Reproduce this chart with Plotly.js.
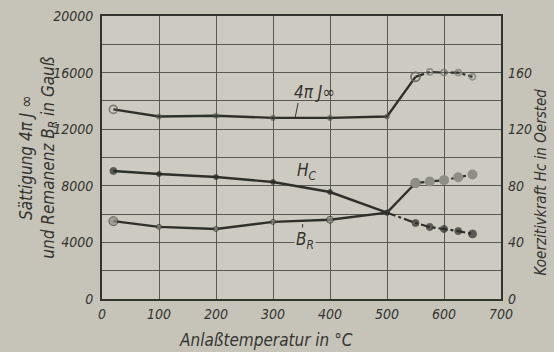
<!DOCTYPE html>
<html>
<head>
<meta charset="utf-8">
<script src="https://cdn.plot.ly/plotly-3.0.1.min.js"></script>
<style>
html,body{margin:0;padding:0;background:#c6c4b9;}
#chart{width:554px;height:352px;}
</style>
</head>
<body>
<div id="chart"></div>
<script>
// Anlaßtemperatur (°C)
var temps = [20, 100, 200, 300, 400, 500, 550, 575, 600, 625, 650];
// Sättigung 4πJ∞ (Gauß)
var sattigung = [13400, 12900, 12950, 12800, 12800, 12900, 15700, 16050, 16000, 16000, 15700];
// Remanenz B_R (Gauß)
var remanenz = [5500, 5100, 4950, 5450, 5600, 6100, 8200, 8300, 8400, 8600, 8800];
// Koerzitivkraft Hc (Oersted)
var koerzitiv = [90.5, 88.3, 86.2, 82.7, 75.6, 61, 53.7, 50.9, 49.5, 48, 46];

var leftTicks = [0, 4000, 8000, 12000, 16000, 20000];
var rightTicks = [0, 40, 80, 120, 160];
var xTicks = [0, 100, 200, 300, 400, 500, 600, 700];

var FONT = '"Liberation Sans Narrow", "DejaVu Sans Condensed", "Liberation Sans", sans-serif';
var INK = '#34342f';
var LINE = '#2f2f2b';

function seg(arr, a, b) { return arr.slice(a, b); }

var traces = [
  {x: seg(temps, 0, 7), y: seg(sattigung, 0, 7), mode: 'lines+markers', yaxis: 'y',
   line: {color: LINE, width: 2.4},
   marker: {symbol: 'circle-open', size: [8,4,4,4,4,4,9], color: '#55554f', line: {width: 1.6}},
   hoverinfo: 'skip', showlegend: false},
  {x: seg(temps, 6, 11), y: seg(sattigung, 6, 11), mode: 'lines+markers', yaxis: 'y',
   line: {color: LINE, width: 2.2, dash: 'dashdot'},
   marker: {symbol: 'circle-open', size: [9,6,6,6,6], color: '#74746d', line: {width: 1.6}},
   hoverinfo: 'skip', showlegend: false},
  {x: seg(temps, 0, 7), y: seg(remanenz, 0, 7), mode: 'lines+markers', yaxis: 'y',
   line: {color: LINE, width: 2.4},
   marker: {symbol: 'circle', size: [9,5,5,5,7,5,9], color: '#8e8d86'},
   hoverinfo: 'skip', showlegend: false},
  {x: seg(temps, 6, 11), y: seg(remanenz, 6, 11), mode: 'lines+markers', yaxis: 'y',
   line: {color: LINE, width: 2.2, dash: 'dashdot'},
   marker: {symbol: 'circle', size: 10, color: '#8e8d86'},
   hoverinfo: 'skip', showlegend: false},
  {x: seg(temps, 0, 6), y: seg(koerzitiv, 0, 6), mode: 'lines+markers', yaxis: 'y2',
   line: {color: LINE, width: 2.4},
   marker: {symbol: 'circle', size: [7,5,5,5,5,5], color: '#2a2a26'},
   hoverinfo: 'skip', showlegend: false},
  {x: seg(temps, 5, 11), y: seg(koerzitiv, 5, 11), mode: 'lines+markers', yaxis: 'y2',
   line: {color: LINE, width: 2.2, dash: 'dashdot'},
   marker: {symbol: 'circle', size: [2,7,7,7,7,8], color: '#2a2a26'},
   hoverinfo: 'skip', showlegend: false}
];

var tickFont = {family: FONT, size: 14, color: INK, style: 'italic'};

var layout = {
  width: 554, height: 352,
  paper_bgcolor: '#c6c4b9',
  plot_bgcolor: '#cdcbc1',
  margin: {l: 102, r: 53, t: 16, b: 53},
  showlegend: false,
  font: {family: FONT, color: INK},
  xaxis: {
    range: [0, 700], tickvals: xTicks, ticktext: xTicks.map(String),
    showgrid: true, gridcolor: '#5a5a54', gridwidth: 1,
    showline: true, linecolor: '#34342f', linewidth: 2, mirror: true,
    zeroline: false, ticks: '', tickfont: tickFont, ticklabelstandoff: 1
  },
  yaxis: {
    range: [0, 20000], tickvals: leftTicks, ticktext: leftTicks.map(String),
    showgrid: true, gridcolor: '#5a5a54', gridwidth: 1,
    minor: {dtick: 2000, showgrid: true, gridcolor: '#5a5a54', gridwidth: 1, ticks: ''},
    showline: true, linecolor: '#34342f', linewidth: 2, mirror: true,
    zeroline: false, ticks: '', tickfont: tickFont, ticklabelstandoff: 4
  },
  yaxis2: {
    range: [0, 200], overlaying: 'y', side: 'right',
    tickvals: rightTicks, ticktext: rightTicks.map(String),
    showgrid: false, zeroline: false, showline: false, ticks: '',
    tickfont: tickFont, ticklabelstandoff: 6
  },
  shapes: [
    {type: 'line', xref: 'x', yref: 'y', x0: 344, y0: 13850, x1: 339, y1: 12850,
     line: {color: INK, width: 1}},
    {type: 'line', xref: 'x', yref: 'y', x0: 352, y0: 5300, x1: 352, y1: 4800,
     line: {color: INK, width: 1}}
  ],
  annotations: [
    {xref: 'paper', yref: 'paper', x: -0.16, y: 0.5, xanchor: 'center', yanchor: 'middle',
     text: 'Sättigung 4π J ∞<br>und Remanenz B<sub>R</sub> in Gauß', textangle: -90, showarrow: false,
     font: {family: FONT, size: 17, color: INK, style: 'italic'}},
    {xref: 'paper', yref: 'paper', x: 1.1, y: 0.415, xanchor: 'center', yanchor: 'middle',
     text: 'Koerzitivkraft Hc in Oersted', textangle: -90, showarrow: false,
     font: {family: FONT, size: 15, color: INK, style: 'italic'}},
    {xref: 'paper', yref: 'paper', x: 0.41, y: -0.145, xanchor: 'center', yanchor: 'middle',
     text: 'Anlaßtemperatur in °C', showarrow: false,
     font: {family: FONT, size: 17, color: INK, style: 'italic'}},
    {xref: 'x', yref: 'y', x: 372, y: 14650, text: '4π J∞', showarrow: false,
     font: {family: FONT, size: 17, color: INK, style: 'italic'}},
    {xref: 'x', yref: 'y2', x: 360, y: 90, text: 'H<sub>C</sub>', showarrow: false,
     font: {family: FONT, size: 17, color: INK, style: 'italic'}},
    {xref: 'x', yref: 'y', x: 356, y: 4100, text: 'B<sub>R</sub>', showarrow: false,
     bgcolor: '#cdcbc1', borderpad: 1,
     font: {family: FONT, size: 17, color: INK, style: 'italic'}}
  ]
};

Plotly.newPlot('chart', traces, layout, {displayModeBar: false, staticPlot: true});
</script>
</body>
</html>
